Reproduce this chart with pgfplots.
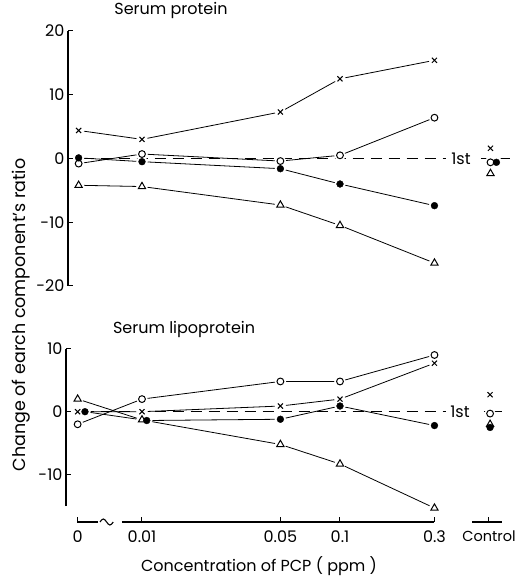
\documentclass[border=0pt]{standalone}
\usepackage{fontspec}
\setmainfont{Poppins}
\usepackage{pgfplots}
\usepackage{pgfplotstable}
\pgfplotsset{compat=1.18}

% x = log10(ppm); "0" and "Control" sit at made-up positions on the broken axis
\pgfplotstableread{
x        xf       cross  open  filled  tri
-2.32    -2.32     4.4   -0.8   0.1    -4.2
-2       -2        3.0    0.7  -0.5    -4.4
-1.30103 -1.30103  7.3   -0.4  -1.6    -7.3
-1       -1       12.5    0.5  -4.0   -10.5
-0.52288 -0.52288 15.4    6.4  -7.4   -16.4
nan      nan       nan    nan   nan     nan
-0.24    -0.21     1.6   -0.6  -0.6    -2.35
}\protein

\pgfplotstableread{
x        xf       cross  open  filled  tri
-2.325   -2.288    0.0   -2.0   0.0     2.0
-2       -1.976    0.0    2.0  -1.4    -1.3
-1.30103 -1.30103  0.9    4.8  -1.2    -5.2
-1       -1        2.0    4.8   0.9    -8.3
-0.52288 -0.52288  7.7    9.0  -2.2   -15.3
nan      nan       nan    nan   nan     nan
-0.242   -0.242    2.7   -0.3  -2.5    -2.0
}\lipo

\pgfplotsset{
  ln/.style={black, line width=0.8pt, no markers, unbounded coords=jump},
  halo/.style={only marks, mark=*, mark size=5.5pt, mark options={draw=white, fill=white}},
  mcross/.style={only marks, mark=x, mark size=3.6pt, mark options={black, line width=1pt}},
  mopen/.style={only marks, mark=o, mark size=3.4pt, mark options={black, fill=white, line width=1pt}},
  mfill/.style={only marks, mark=*, mark size=3.4pt, mark options={black, fill=black}},
  mtri/.style={only marks, mark=triangle, mark size=4.2pt, mark options={black, line width=1pt}},
  every axis/.append style={
    scale only axis, clip=false,
    /pgf/number format/assume math mode=true,
    ticklabel style={font=\fontsize{16}{18}\selectfont},
    tick style={black, line width=1pt},
    major tick length=5pt,
  },
}
\newcommand{\fs}{\fontsize{16}{18}\selectfont}

\begin{document}
\begin{tikzpicture}[font=\fs]
\useasboundingbox (0pt,0pt) rectangle (517pt,578pt);

% ---------- Serum protein ----------
\begin{axis}[
  at={(68pt,292pt)}, anchor=south west,
  width=442pt, height=255pt,
  xmin=-2.3737, xmax=-0.1414, ymin=-20, ymax=20,
  axis y line=left, axis x line=none,
  axis line style={-, line width=2.4pt},
  ytick={-20,-10,0,10,20}, ytick align=inside,
  title={Serum protein},
  title style={at={(axis description cs:0.233,1.055)}, anchor=center, font=\fs},
]
\addplot[ln] table[x=x, y=cross] {\protein};
\addplot[ln] table[x=x, y=open] {\protein};
\addplot[ln] table[x=xf, y=filled] {\protein};
\addplot[ln] table[x=x, y=tri] {\protein};
\draw[line width=0.8pt, dash pattern=on 11pt off 7pt] (axis cs:-2.3,0) -- (axis cs:-0.4646,0);
\draw[line width=0.8pt] (axis cs:-0.288,0) -- (axis cs:-0.1414,0);
\node[font=\fs] at (axis cs:-0.389,0) {1st};
\addplot[halo] table[x=x, y=cross] {\protein};
\addplot[halo] table[x=x, y=open] {\protein};
\addplot[halo] table[x=xf, y=filled] {\protein};
\addplot[halo] table[x=x, y=tri] {\protein};
\addplot[mcross] table[x=x, y=cross] {\protein};
\addplot[mopen] table[x=x, y=open] {\protein};
\addplot[mfill] table[x=xf, y=filled] {\protein};
\addplot[mtri] table[x=x, y=tri] {\protein};
\end{axis}

% ---------- Serum lipoprotein ----------
\begin{axis}[
  at={(66pt,56pt)}, anchor=south west,
  width=444pt, height=173.3pt,
  xmin=-2.3838, xmax=-0.1414, ymin=-17.51, ymax=10,
  axis y line=left, axis x line=bottom,
  axis line style={draw=none},
  ytick={-10,0,10},
  xtick={-2.325,-2,-1.30103,-1,-0.52288,-0.2475},
  xticklabels={0,0.01,0.05,0.1,0.3,{\fontsize{14.5}{16}\selectfont Control}},
  tick align=inside,
  xticklabel style={yshift=-5pt},
  title={Serum lipoprotein},
  title style={at={(axis description cs:0.266,1.079)}, anchor=center, font=\fs},
  xlabel={Concentration of PCP ( ppm )},
  xlabel style={at={(axis description cs:0.4347,-0.254)}, anchor=center, font=\fs},
]
\draw[line width=2.4pt] (axis cs:-2.3838,-15) -- (axis cs:-2.3838,10);
\draw[line width=2pt] (axis cs:-2.328,-17.51) -- (axis cs:-2.222,-17.51);
\draw[line width=1.1pt] (axis cs:-2.212,-17.51) sin ++(3.3pt,3pt) cos ++(3.3pt,-3pt) sin ++(3.3pt,-3pt) cos ++(3.3pt,3pt);
\draw[line width=2pt] (axis cs:-2.101,-17.51) -- (axis cs:-0.5229,-17.51);
\draw[line width=2pt] (axis cs:-0.3333,-17.51) -- (axis cs:-0.1818,-17.51);
\addplot[ln] table[x=x, y=cross] {\lipo};
\addplot[ln] table[x=x, y=open] {\lipo};
\addplot[ln] table[x=xf, y=filled] {\lipo};
\addplot[ln] table[x=x, y=tri] {\lipo};
\draw[line width=0.8pt, dash pattern=on 11pt off 7pt] (axis cs:-2.3,0) -- (axis cs:-0.4646,0);
\draw[line width=0.8pt] (axis cs:-0.273,0) -- (axis cs:-0.182,0);
\node[font=\fs] at (axis cs:-0.394,0) {1st};
\addplot[halo] table[x=x, y=cross] {\lipo};
\addplot[halo] table[x=x, y=open] {\lipo};
\addplot[halo] table[x=xf, y=filled] {\lipo};
\addplot[halo] table[x=x, y=tri] {\lipo};
\addplot[mcross] table[x=x, y=cross] {\lipo};
\addplot[mopen] table[x=x, y=open] {\lipo};
\addplot[mfill] table[x=xf, y=filled] {\lipo};
\addplot[mtri] table[x=x, y=tri] {\lipo};
\end{axis}

\node[rotate=90, font=\fontsize{17.5}{19}\selectfont] at (21pt,263pt) {Change of earch component's ratio};
\end{tikzpicture}
\end{document}
